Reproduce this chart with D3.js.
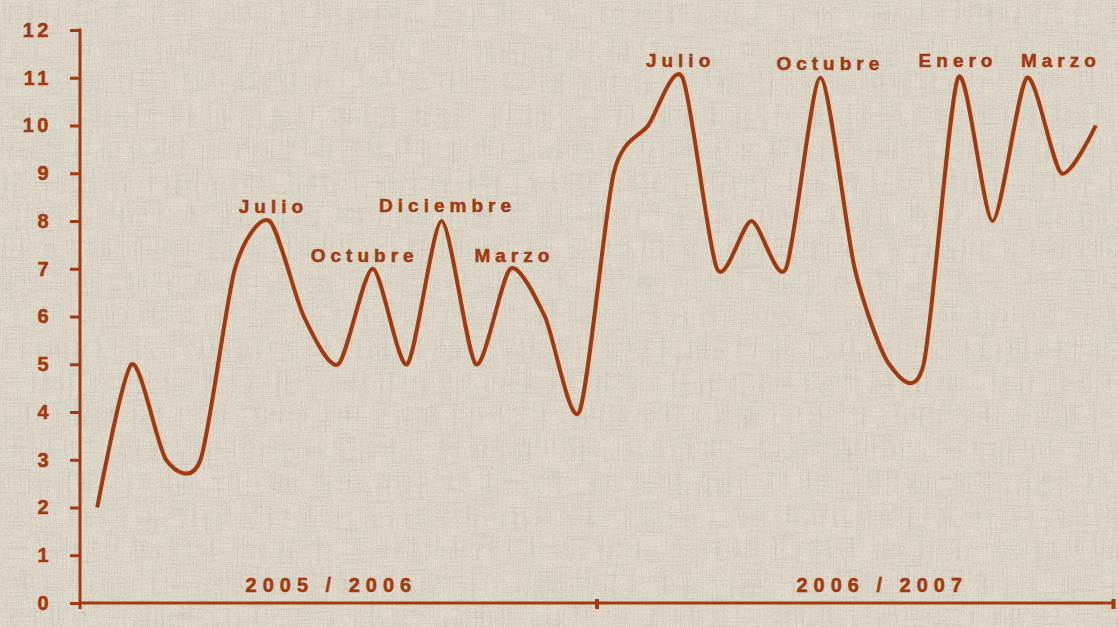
<!DOCTYPE html>
<html>
<head>
<meta charset="utf-8">
<script src="https://cdn.jsdelivr.net/npm/d3@7"></script>
<style>
  body { margin: 0; background: #ddd5c5; }
  svg { display: block; }
  text { font-family: "Liberation Sans", Arial, sans-serif; font-weight: bold; fill: #a13a0e; stroke: #a13a0e; stroke-width: 0.5px; }
</style>
</head>
<body>
<div id="chart"></div>
<script>
// monthly values, two seasons
var values = [2, 5, 3, 3, 7, 8, 6, 5, 7, 5, 8, 5, 7, 6, 4,
              9, 10, 11, 7, 8, 7, 11, 7, 5, 5, 11, 8, 11, 9, 10];
var yTicks = [0, 1, 2, 3, 4, 5, 6, 7, 8, 9, 10, 11, 12];
// month labels: index of the point they sit over, and the text
var monthIdx = [5, 8, 10, 12, 17, 21, 25, 27];
var monthNames = ["Julio", "Octubre", "Diciembre", "Marzo", "Julio", "Octubre", "Enero", "Marzo"];
var seasons = ["2005 / 2006", "2006 / 2007"];

var svgWidth = 1118;
var svgHeight = 627;
var color = "#a13a0e";

var margin = { top: 30, right: 5, bottom: 24, left: 80 };
var width = svgWidth - margin.left - margin.right;
var height = svgHeight - margin.top - margin.bottom;

var svg = d3.select("#chart")
    .append("svg")
    .attr("width", svgWidth)
    .attr("height", svgHeight);

// linen-ish background
var defs = svg.append("defs");
var fH = defs.append("filter").attr("id", "streakH").attr("x", 0).attr("y", 0).attr("width", 1).attr("height", 1);
fH.append("feTurbulence").attr("type", "fractalNoise").attr("baseFrequency", "0.03 0.8").attr("numOctaves", 2).attr("seed", 3);
fH.append("feColorMatrix").attr("type", "matrix")
    .attr("values", "0 0 0 0 0.48  0 0 0 0 0.44  0 0 0 0 0.4  0 0 0 -2.4 1.32");
var fV = defs.append("filter").attr("id", "streakV").attr("x", 0).attr("y", 0).attr("width", 1).attr("height", 1);
fV.append("feTurbulence").attr("type", "fractalNoise").attr("baseFrequency", "0.8 0.03").attr("numOctaves", 2).attr("seed", 7);
fV.append("feColorMatrix").attr("type", "matrix")
    .attr("values", "0 0 0 0 0.48  0 0 0 0 0.44  0 0 0 0 0.4  0 0 0 -2.4 1.32");
var fL = defs.append("filter").attr("id", "speck").attr("x", 0).attr("y", 0).attr("width", 1).attr("height", 1);
fL.append("feTurbulence").attr("type", "fractalNoise").attr("baseFrequency", "0.7 0.7").attr("numOctaves", 1).attr("seed", 11);
fL.append("feColorMatrix").attr("type", "matrix")
    .attr("values", "0 0 0 0 0.97  0 0 0 0 0.95  0 0 0 0 0.9  0 0 0 -3 1.6");

svg.append("rect").attr("width", svgWidth).attr("height", svgHeight).attr("fill", "#ddd5c5");
svg.append("rect").attr("width", svgWidth).attr("height", svgHeight).attr("filter", "url(#streakH)").attr("opacity", 0.4);
svg.append("rect").attr("width", svgWidth).attr("height", svgHeight).attr("filter", "url(#streakV)").attr("opacity", 0.4);
svg.append("rect").attr("width", svgWidth).attr("height", svgHeight).attr("filter", "url(#speck)").attr("opacity", 0.45);

var chartGroup = svg.append("g")
    .attr("transform", `translate(${margin.left}, ${margin.top})`);

var xScale = d3.scaleLinear()
    .domain([-0.5, values.length - 0.5])
    .range([0, width]);

var yScale = d3.scaleLinear()
    .domain([0, 12])
    .range([height, 0]);

// y axis
var leftAxis = d3.axisLeft(yScale)
    .tickValues(yTicks)
    .tickSize(10)
    .tickPadding(20)
    .tickFormat(d3.format("d"));

var yAxisG = chartGroup.append("g").call(leftAxis);
yAxisG.select(".domain").remove();
yAxisG.selectAll("line").attr("stroke", color).attr("stroke-width", 3);
yAxisG.selectAll("text")
    .attr("font-size", 20)
    .attr("letter-spacing", 3.5)
    .attr("dx", 2)
    .attr("fill", color)
    .style("font-family", "Liberation Sans, Arial, sans-serif")
    .style("font-weight", "bold");

chartGroup.append("line")
    .attr("x1", 0).attr("x2", 0)
    .attr("y1", yScale(12) - 1.5).attr("y2", height + 6)
    .attr("stroke", color).attr("stroke-width", 3);

// x axis
chartGroup.append("line")
    .attr("x1", 0).attr("x2", width)
    .attr("y1", height).attr("y2", height)
    .attr("stroke", color).attr("stroke-width", 3);

var bottomAxis = d3.axisBottom(xScale)
    .tickValues([values.length / 2 - 0.5, values.length - 0.5])
    .tickSize(6)
    .tickFormat("");
var xAxisG = chartGroup.append("g")
    .attr("transform", `translate(0, ${height})`)
    .call(bottomAxis);
xAxisG.select(".domain").remove();
xAxisG.selectAll("line").attr("stroke", color).attr("stroke-width", 4).attr("y1", -4);

// season labels
chartGroup.selectAll(".season")
    .data(seasons)
    .enter()
    .append("text")
    .attr("class", "season")
    .attr("x", (d, i) => i == 0 ? xScale(6.8) : xScale(22.8))
    .attr("y", height - 11)
    .attr("text-anchor", "middle")
    .attr("font-size", 20)
    .attr("letter-spacing", 6)
    .text(d => d);

// the line
var line = d3.line()
    .x((d, i) => xScale(i))
    .y(d => yScale(d))
    .curve(d3.curveCardinal.tension(0.25));

chartGroup.append("path")
    .datum(values)
    .attr("d", line)
    .attr("fill", "none")
    .attr("stroke", color)
    .attr("stroke-width", 4)
    .attr("stroke-linejoin", "round");

// month labels
var labelDx = [4, -8, 6, 4, -2, 10, 0, 34];
var labelDy = [-8, -7, -9, -7, -11, -8, -11, -11];
chartGroup.selectAll(".month")
    .data(monthNames)
    .enter()
    .append("text")
    .attr("class", "month")
    .attr("x", (d, i) => xScale(monthIdx[i]) + labelDx[i])
    .attr("y", (d, i) => yScale(values[monthIdx[i]]) + labelDy[i])
    .attr("text-anchor", "middle")
    .attr("font-size", 19)
    .attr("letter-spacing", 5)
    .text(d => d);
</script>
</body>
</html>
